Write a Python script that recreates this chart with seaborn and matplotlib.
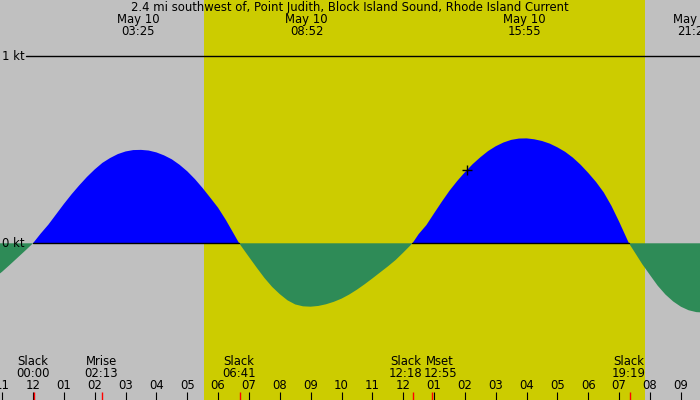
import numpy as np
import pandas as pd
import seaborn as sns
import matplotlib.pyplot as plt
import matplotlib.transforms as mtransforms

hours = [-1.1, -1.0, -0.75, -0.5, -0.25,
         0.0, 0.25, 0.5, 0.75, 1.0, 1.25, 1.5, 1.75, 2.0, 2.25, 2.5, 2.75, 3.0, 3.25,
         3.5, 3.75, 4.0, 4.25, 4.5, 4.75, 5.0, 5.25, 5.5, 5.75, 6.0, 6.25, 6.5, 6.683,
         7.0, 7.25, 7.5, 7.75, 8.0, 8.25, 8.5, 8.75, 9.0, 9.25, 9.5, 9.75, 10.0, 10.25,
         10.5, 10.75, 11.0, 11.25, 11.5, 11.75, 12.0, 12.3,
         12.5, 12.75, 13.0, 13.25, 13.5, 13.75, 14.0, 14.25, 14.5, 14.75, 15.0, 15.25,
         15.5, 15.75, 16.0, 16.25, 16.5, 16.75, 17.0, 17.25, 17.5, 17.75, 18.0, 18.25,
         18.5, 18.75, 19.0, 19.317,
         19.5, 19.75, 20.0, 20.25, 20.5, 20.75, 21.0, 21.25, 21.5, 21.7]
knots = [-0.165, -0.152, -0.115, -0.077, -0.039,
         0.0, 0.052, 0.10, 0.155, 0.21, 0.262, 0.31, 0.355, 0.395, 0.43, 0.456, 0.477,
         0.491, 0.4985,
         0.4995, 0.496, 0.486, 0.470, 0.449, 0.420, 0.385, 0.343, 0.295, 0.243, 0.19,
         0.125, 0.053, 0.0,
         -0.073, -0.13, -0.185, -0.233, -0.272, -0.305, -0.327, -0.337, -0.339, -0.335,
         -0.326, -0.313, -0.296, -0.274, -0.248, -0.219, -0.188, -0.156, -0.124, -0.09,
         -0.05, 0.0,
         0.049, 0.097, 0.16, 0.222, 0.281, 0.333, 0.380, 0.423, 0.460, 0.493, 0.519,
         0.539, 0.553, 0.560, 0.561, 0.556, 0.547, 0.533, 0.513, 0.489, 0.458, 0.42,
         0.376, 0.328, 0.272, 0.20, 0.115, 0.0,
         -0.047, -0.112, -0.17, -0.227, -0.274, -0.311, -0.339, -0.358, -0.368, -0.37]

title = "2.4 mi southwest of, Point Judith, Block Island Sound, Rhode Island Current"

# максимумы течения (подписи сверху)
peak_hours = [3.417, 8.867, 15.917, 21.433]
peak_labels = ["03:25", "08:52", "15:55", "21:26"]

# события снизу: название, время, сдвиг подписи (pt)
event_names = ["Slack", "Mrise", "Slack", "Slack", "Mset", "Slack"]
event_times = ["00:00", "02:13", "06:41", "12:18", "12:55", "19:19"]
event_hours = [0.0, 2.217, 6.683, 12.3, 12.917, 19.317]
event_shift = [0, 0, 0, -4.8, 6.1, 0]

tick_hours = list(range(-1, 22))
tick_labels = ["11", "12", "01", "02", "03", "04", "05", "06", "07", "08", "09", "10",
               "11", "12", "01", "02", "03", "04", "05", "06", "07", "08", "09"]

sunrise, sunset = 5.543, 19.838
now_hour, now_knots = 14.08, 0.39

df = pd.DataFrame({"hour": hours, "knots": knots})
v = df["knots"].to_numpy()
t = df["hour"].to_numpy()

sns.set_style("white")
plt.rcParams["font.family"] = ["DejaVu Sans"]
plt.rcParams["text.color"] = "black"
plt.rcParams["xtick.color"] = "black"
plt.rcParams["xtick.labelcolor"] = "black"
fs = 8.4

fig = plt.figure(figsize=(7, 4), dpi=100)
ax = fig.add_axes([0, 0, 1, 1])
ax.set_facecolor("#c0c0c0")
ax.set_axisbelow(False)
for s in ax.spines.values():
    s.set_visible(False)

ax.set_xlim(-1.0697, 21.62)
ax.set_ylim(-0.838, 1.301)

ax.axvspan(sunrise, sunset, color="#cccc00", lw=0, zorder=1)

ax.fill_between(t, v, 0, where=v >= 0, interpolate=True, color="#0000ff", lw=0, zorder=2)
ax.fill_between(t, v, 0, where=v <= 0, interpolate=True, color="#2e8b57", lw=0, zorder=2)
ax.plot(t, np.where(v >= 0, 0.0, np.nan), color="black", lw=1.0, zorder=3)

ytrans = mtransforms.blended_transform_factory(ax.transAxes, ax.transData)
ax.axhline(1.0, xmin=26 / 700, xmax=1, color="black", lw=1, zorder=3)
ax.text(2 / 700, 1.0, "1 kt", transform=ytrans, ha="left", va="center", fontsize=fs)
ax.text(2 / 700, 0.0, "0 kt", transform=ytrans, ha="left", va="center", fontsize=fs)

sns.scatterplot(x=[now_hour], y=[now_knots], marker="+", s=45, color="black",
                linewidth=1, ax=ax, zorder=4)

trans = mtransforms.blended_transform_factory(ax.transData, ax.transAxes)
ax.text(0.5, 1 - 7.5 / 400, title, transform=ax.transAxes, ha="center", va="center", fontsize=fs)

for h, lab in zip(peak_hours, peak_labels):
    ax.text(h, 1 - 19.5 / 400, "May 10", transform=trans, ha="center", va="center", fontsize=fs)
    ax.text(h, 1 - 31.5 / 400, lab, transform=trans, ha="center", va="center", fontsize=fs)

for name, tm, h, dx in zip(event_names, event_times, event_hours, event_shift):
    ax.annotate(name, xy=(h, 1 - 361.5 / 400), xycoords=trans, xytext=(dx, 0),
                textcoords="offset points", ha="center", va="center", fontsize=fs)
    ax.annotate(tm, xy=(h, 1 - 373.5 / 400), xycoords=trans, xytext=(dx, 0),
                textcoords="offset points", ha="center", va="center", fontsize=fs)

ax.set_yticks([])
ax.xaxis.remove_overlapping_locs = False
ax.set_xticks(tick_hours, tick_labels)
ax.set_xticks([h + 0.03 for h in event_hours], minor=True)
ax.tick_params(axis="x", which="major", bottom=True, direction="in", length=6,
               width=0.8, color="black", pad=-15, labelsize=fs, labelcolor="black")
ax.tick_params(axis="x", which="minor", bottom=True, direction="in", length=6,
               width=1.0, color="red")

fig.savefig("out.png", dpi=100)
